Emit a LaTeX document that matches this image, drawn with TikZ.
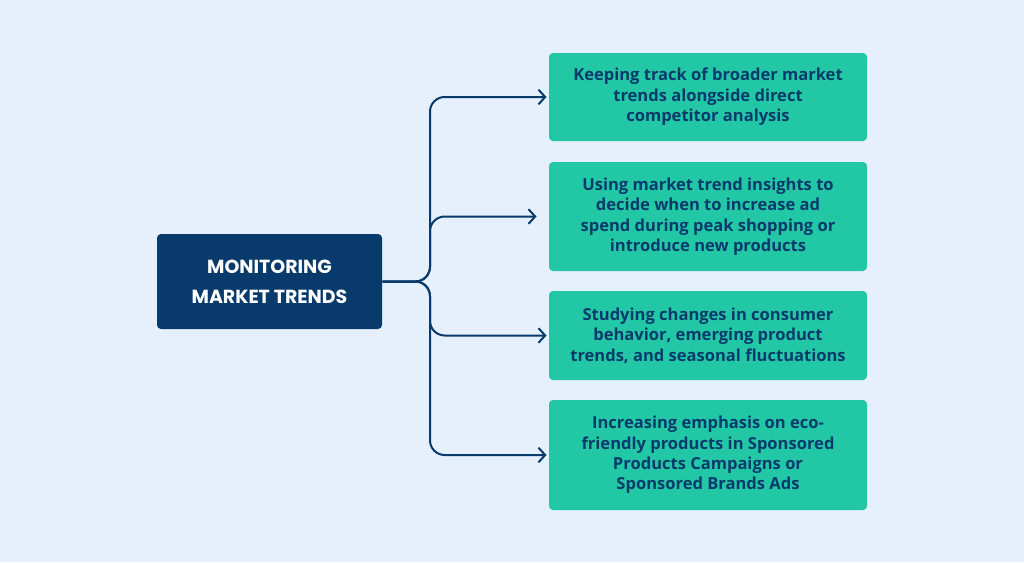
\documentclass[tikz,border=0pt]{standalone}
\usepackage{fontspec}
\setmainfont{Open Sans}
\newfontfamily\titlefont{Poppins}
\usetikzlibrary{arrows.meta}

\definecolor{pagebg}{RGB}{230,240,253}
\definecolor{navy}{RGB}{8,58,107}
\definecolor{mint}{RGB}{34,200,166}

\tikzset{every picture/.style={line width=0.75pt}}

\begin{document}
\begin{tikzpicture}[x=0.75pt,y=0.75pt,yscale=-1,xscale=1,
  mainbox/.style={fill=navy,rounded corners=3pt,text=white,align=center,
    minimum width=168.75pt,minimum height=71.25pt,inner sep=0pt,
    font=\titlefont\bfseries\fontsize{14.2}{22.5}\selectfont},
  itembox/.style={fill=mint,rounded corners=3pt,text=navy,align=center,
    minimum width=238.5pt,inner sep=0pt,
    font=\bfseries\fontsize{12.4}{15.3}\selectfont},
  branch/.style={draw=navy,line width=1.5pt,rounded corners=11pt,
    -{Straight Barb[length=5pt,width=11pt,line width=1.5pt]}}]
%set diagram to 1024 x 562
\fill[pagebg] (0,0) rectangle (1024,562);

%Rounded Rect
\node[mainbox] (main) at (269.5,281.5) {MONITORING\\MARKET TRENDS};

%Rounded Rect
\node[itembox,minimum height=66pt] (trackTrends) at (708,97) {Keeping track of broader market\\trends alongside direct\\competitor analysis};
%Rounded Rect
\node[itembox,minimum height=81.75pt] (adSpend) at (708,216.5) {Using market trend insights to\\decide when to increase ad\\spend during peak shopping or\\introduce new products};
%Rounded Rect
\node[itembox,minimum height=66.75pt] (consumer) at (708,335.5) {Studying changes in consumer\\behavior, emerging product\\trends, and seasonal fluctuations};
%Rounded Rect
\node[itembox,minimum height=82.5pt] (ecoFriendly) at (708,455) {Increasing emphasis on eco-\\friendly products in Sponsored\\Products Campaigns or\\Sponsored Brands Ads};

%Spine
\coordinate (spine) at (430,281.5);

%Curve Lines
\draw[branch,shorten >=1.5pt] (main.east) -| (spine |- trackTrends.west) -- (trackTrends.west);
\draw[branch,shorten >=9pt] (main.east) -| (spine |- adSpend.west) -- (adSpend.west);
\draw[branch,shorten >=1.5pt] (main.east) -| (spine |- consumer.west) -- (consumer.west);
\draw[branch,shorten >=1.5pt] (main.east) -| (spine |- ecoFriendly.west) -- (ecoFriendly.west);

\end{tikzpicture}
\end{document}
